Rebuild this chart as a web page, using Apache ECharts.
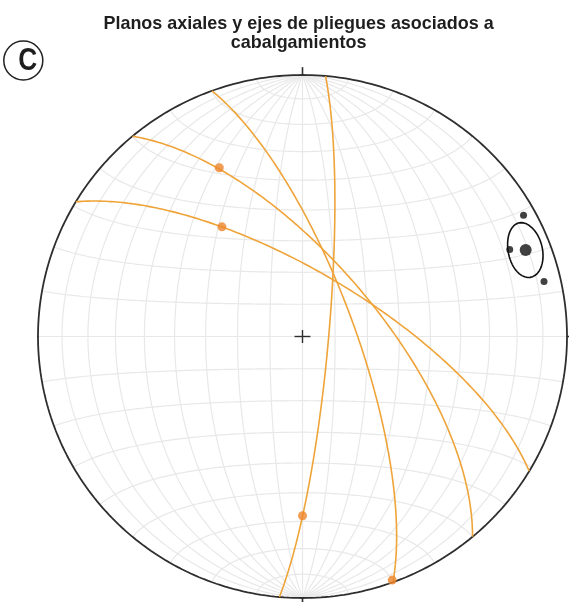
<!DOCTYPE html>
<html>
<head>
<meta charset="utf-8">
<script src="https://cdn.jsdelivr.net/npm/echarts@6/dist/echarts.min.js"></script>
<style>
  html, body { margin: 0; padding: 0; background: #ffffff; }
  #chart { width: 573px; height: 602px; }
</style>
</head>
<body>
<div id="chart"></div>
<script>
// Axial planes: strike (right-hand rule) and dip, degrees
const planeStrikes = [5, 340, 320, 301];
const planeDips    = [82, 74, 67, 70];

// Fold axes measured on each plane: trend and plunge, degrees
const axisTrends   = [180, 160, 334, 324];
const axisPlunges  = [32, 1, 29, 47];

// Black points: trend and plunge, degrees
const poleTrends   = [61, 67, 77];
const polePlunges  = [5, 16, 7];

// Mean vector and its confidence ellipse (major / minor half-angles, rotation)
const meanTrend    = 68.6;
const meanPlunge   = 10.3;
const coneHalfAngles = [7.35, 6.15];
const coneRotation = -34.7;

// Net spacing in degrees
const netStep = 10;

const D2R = Math.PI / 180;

// Unit vector [north, east, down] of a line given trend/plunge
function lineVec(trend, plunge) {
  const t = trend * D2R, p = plunge * D2R;
  return [Math.cos(p) * Math.cos(t), Math.cos(p) * Math.sin(t), Math.sin(p)];
}
// Lambert equal-area projection of the lower hemisphere, radius 1
function project(v) {
  let n = v[0], e = v[1], d = v[2];
  if (d < 0) { n = -n; e = -e; d = -d; }
  const k = 1 / Math.sqrt(1 + d);
  return [e * k, n * k];
}
function combine(a, b, ca, cb) {
  return [a[0] * ca + b[0] * cb, a[1] * ca + b[1] * cb, a[2] * ca + b[2] * cb];
}
function normalize(v) {
  const l = Math.hypot(v[0], v[1], v[2]);
  return [v[0] / l, v[1] / l, v[2] / l];
}
function cross(a, b) {
  return [a[1] * b[2] - a[2] * b[1], a[2] * b[0] - a[0] * b[2], a[0] * b[1] - a[1] * b[0]];
}
function greatCircle(strike, dip) {
  const s = lineVec(strike, 0);
  const dd = lineVec(strike + 90, dip);
  const pts = [];
  for (let t = 0; t <= 180; t += 1) {
    pts.push(project(combine(s, dd, Math.cos(t * D2R), Math.sin(t * D2R))));
  }
  return pts;
}
// Small circle of the net around the N (sign=1) or S (sign=-1) horizontal axis
function netSmallCircle(alpha, sign) {
  const pts = [];
  const ca = Math.cos(alpha * D2R), sa = Math.sin(alpha * D2R);
  for (let f = 0; f <= 180; f += 1) {
    pts.push(project([sign * ca, sa * Math.cos(f * D2R), sa * Math.sin(f * D2R)]));
  }
  return pts;
}
// Elliptical cone around an axis
function cone(trend, plunge, aMaj, aMin, rot) {
  const ax = lineVec(trend, plunge);
  const w0 = normalize(cross(ax, [0, 0, 1]));   // horizontal, perpendicular to axis
  const u0 = normalize(cross(w0, ax));          // in the vertical plane of the axis
  const cr = Math.cos(rot * D2R), sr = Math.sin(rot * D2R);
  const u = combine(u0, w0, cr, sr);
  const w = combine(u0, w0, -sr, cr);
  const t1 = Math.tan(aMaj * D2R), t2 = Math.tan(aMin * D2R);
  const pts = [];
  for (let f = 0; f <= 360; f += 3) {
    const c = Math.cos(f * D2R), s = Math.sin(f * D2R);
    const v = normalize([
      ax[0] + t1 * c * u[0] + t2 * s * w[0],
      ax[1] + t1 * c * u[1] + t2 * s * w[1],
      ax[2] + t1 * c * u[2] + t2 * s * w[2]
    ]);
    pts.push(project(v));
  }
  return pts;
}

const series = [];
const gridStyle = { color: '#e8e8e8', width: 1.2 };
function addLine(data, style, z, clip) {
  series.push({
    type: 'line', data: data, showSymbol: false, symbol: 'none', silent: true,
    lineStyle: style, z: z, clip: clip !== false, animation: false
  });
}

// Net: meridian great circles and latitude small circles
for (let dip = netStep; dip < 180; dip += netStep) {
  addLine(greatCircle(0, dip), gridStyle, 1);
}
for (let a = netStep; a < 90; a += netStep) {
  addLine(netSmallCircle(a, 1), gridStyle, 1);
  addLine(netSmallCircle(a, -1), gridStyle, 1);
}
addLine(netSmallCircle(90, 1), gridStyle, 1);

// Primitive circle
const primitive = [];
for (let a = 0; a <= 360; a += 1) primitive.push([Math.sin(a * D2R), Math.cos(a * D2R)]);
addLine(primitive, { color: '#2e2e2e', width: 1.8 }, 3, false);

// Cardinal ticks and centre cross
const tickStyle = { color: '#2e2e2e', width: 1.6 };
addLine([[0, 1], [0, 1.03]], tickStyle, 3, false);
addLine([[0, -1], [0, -1.03]], tickStyle, 3, false);
addLine([[1, 0], [1.028, 0]], tickStyle, 3, false);
addLine([[-1, 0], [-1.028, 0]], tickStyle, 3, false);
addLine([[-0.03, 0], [0.03, 0]], { color: '#2e2e2e', width: 1.4 }, 3, false);
addLine([[0, -0.025], [0, 0.025]], { color: '#2e2e2e', width: 1.4 }, 3, false);

// Axial planes
planeStrikes.forEach((s, i) => {
  addLine(greatCircle(s, planeDips[i]), { color: '#efa43a', width: 1.6 }, 4);
});

// Fold axes
series.push({
  type: 'scatter', z: 6, silent: true, animation: false,
  symbol: 'circle', symbolSize: 9,
  itemStyle: { color: '#ec852b' },
  data: axisTrends.map((t, i) => project(lineVec(t, axisPlunges[i])))
});

// Confidence ellipse, poles and mean
addLine(cone(meanTrend, meanPlunge, coneHalfAngles[0], coneHalfAngles[1], coneRotation),
  { color: '#111111', width: 1.6 }, 5);
series.push({
  type: 'scatter', z: 6, silent: true, animation: false,
  symbol: 'circle', symbolSize: 7,
  itemStyle: { color: '#111111' },
  data: poleTrends.map((t, i) => project(lineVec(t, polePlunges[i])))
});
series.push({
  type: 'scatter', z: 7, silent: true, animation: false,
  symbol: 'circle', symbolSize: 12,
  itemStyle: { color: '#111111' },
  data: [project(lineVec(meanTrend, meanPlunge))]
});

const chart = echarts.init(document.getElementById('chart'), null, { renderer: 'canvas' });
chart.setOption({
  animation: false,
  backgroundColor: '#ffffff',
  grid: { left: 38, top: 75, width: 529, height: 523 },
  xAxis: { type: 'value', min: -1, max: 1, show: false },
  yAxis: { type: 'value', min: -1, max: 1, show: false },
  graphic: [
    {
      type: 'text', x: 283, y: 24, scaleX: 0.945, originX: 283,
      style: {
        text: 'Planos axiales y ejes de pliegues asociados a',
        font: 'bold 19px "Liberation Sans", Arial, sans-serif',
        fill: '#1e1e1e', align: 'center', verticalAlign: 'middle'
      }
    },
    {
      type: 'text', x: 283, y: 42.5, scaleX: 0.945, originX: 283,
      style: {
        text: 'cabalgamientos',
        font: 'bold 19px "Liberation Sans", Arial, sans-serif',
        fill: '#1e1e1e', align: 'center', verticalAlign: 'middle'
      }
    },
    {
      type: 'circle', shape: { cx: 23.3, cy: 60.5, r: 19.5 },
      style: { fill: 'none', stroke: '#222222', lineWidth: 1.5 }
    },
    {
      type: 'text', x: 23.5, y: 61.5, scaleX: 0.82, originX: 23.5,
      style: {
        text: 'C', font: 'bold 32px "Liberation Sans", Arial, sans-serif',
        fill: '#1e1e1e', align: 'center', verticalAlign: 'middle'
      }
    }
  ],
  series: series
});
</script>
</body>
</html>
